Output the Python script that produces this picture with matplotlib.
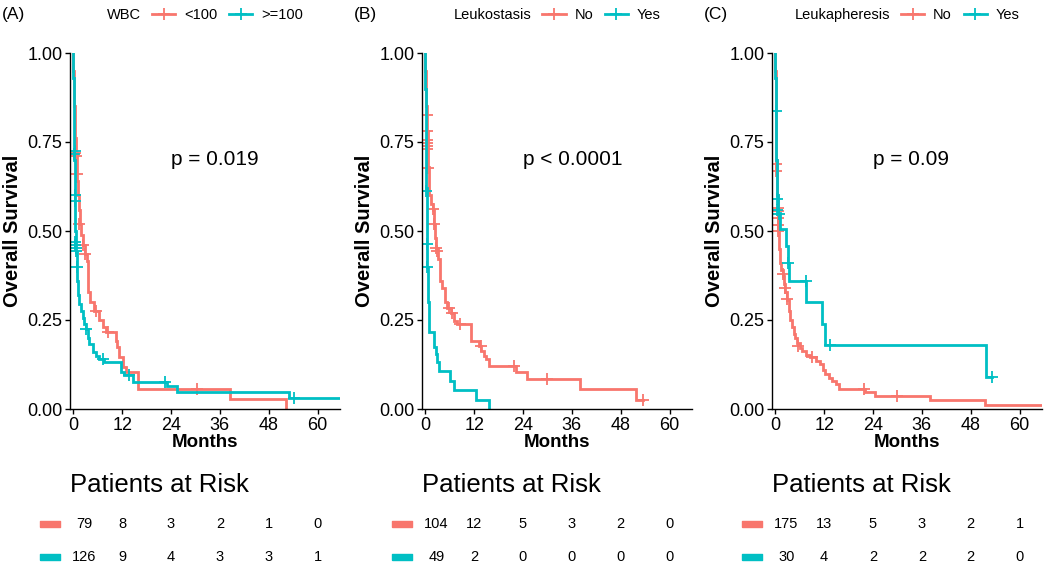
"""Kaplan-Meier overall survival by WBC, leukostasis and leukapheresis, with risk tables."""

import matplotlib
matplotlib.use("Agg")
import matplotlib.pyplot as plt
import matplotlib.transforms as mtransforms
from matplotlib.lines import Line2D
from matplotlib.offsetbox import HPacker

plt.rcParams["font.family"] = ["Liberation Sans", "DejaVu Sans"]
NARROW = ["Liberation Sans Narrow", "Liberation Sans", "DejaVu Sans"]
RED = "#F8766D"
CYAN = "#00BFC4"

RISK_TIMES = [0, 12, 24, 36, 48, 60]
X_TICKS = [0, 12, 24, 36, 48, 60]
Y_TICKS = [0.0, 0.25, 0.50, 0.75, 1.0]

# ---- (A) WBC ----
a_red_t = [0.05, 0.15, 0.25, 0.35, 0.45, 0.6, 0.8, 1.0, 1.2, 1.4, 1.6, 2.0, 2.4, 2.9, 3.4, 3.5, 3.6,
           4.2, 5.0, 6.4, 7.2, 8.0, 10.5, 10.8, 11.3, 12.2, 13.0, 15.9, 38.5, 52.3]
a_red_s = [0.95, 0.9, 0.85, 0.8, 0.76, 0.72, 0.68, 0.64, 0.6, 0.56, 0.52, 0.49, 0.46, 0.435, 0.416, 0.37,
           0.33, 0.30, 0.276, 0.25, 0.23, 0.215, 0.19, 0.173, 0.145, 0.117, 0.103, 0.056, 0.028, 0.0]
a_red_end = 52.3
a_red_ct = [0.5, 0.6, 0.9, 1.5, 2.3, 2.9, 5.6, 8.5, 30.5]
a_red_cs = [0.72, 0.71, 0.66, 0.52, 0.46, 0.435, 0.276, 0.215, 0.056]

a_cyan_t = [0.05, 0.1, 0.15, 0.2, 0.3, 0.35, 0.4, 0.45, 0.5, 0.6, 0.7, 0.8, 0.95, 1.1, 1.5, 1.9, 2.3,
            2.7, 3.1, 3.5, 3.9, 4.8, 5.6, 6.4, 7.6, 11.7, 12.4, 14.6, 22.9, 25.4, 53.0]
a_cyan_s = [0.93, 0.86, 0.8, 0.75, 0.7, 0.65, 0.6, 0.55, 0.5, 0.47, 0.44, 0.40, 0.36, 0.32, 0.295, 0.275,
            0.257, 0.24, 0.225, 0.2, 0.182, 0.16, 0.15, 0.14, 0.133, 0.103, 0.095, 0.077, 0.065, 0.047, 0.030]
a_cyan_end = 65.5
a_cyan_ct = [0.3, 0.35, 0.4, 0.45, 0.5, 0.55, 0.6, 0.65, 0.8, 3.1, 7.2, 13.8, 22.5, 54.3]
a_cyan_cs = [0.715, 0.726, 0.60, 0.585, 0.47, 0.46, 0.452, 0.444, 0.40, 0.225, 0.14, 0.095, 0.077, 0.030]

a_risk_red = [79, 8, 3, 2, 1, 0]
a_risk_cyan = [126, 9, 4, 3, 3, 1]

# ---- (B) Leukostasis ----
b_red_t = [0.05, 0.15, 0.3, 0.4, 0.5, 0.6, 0.7, 0.8, 0.9, 1.3, 1.8, 2.2, 2.5, 2.7, 3.2, 3.5, 3.7, 4.2,
           4.8, 5.4, 6.3, 7.0, 7.8, 11.2, 13.3, 13.8, 14.4, 14.8, 15.6, 22.3, 24.9, 38.1, 51.7]
b_red_s = [0.95, 0.9, 0.85, 0.82, 0.78, 0.72, 0.68, 0.64, 0.60, 0.575, 0.56, 0.52, 0.48, 0.453, 0.42,
           0.39, 0.36, 0.34, 0.30, 0.285, 0.27, 0.248, 0.238, 0.19, 0.178, 0.164, 0.15, 0.14, 0.121,
           0.103, 0.084, 0.056, 0.026]
b_red_end = 53.5
b_red_ct = [0.4, 0.45, 0.35, 0.35, 0.35, 0.35, 0.75, 1.8, 2.2, 2.7, 3.0, 5.8, 6.6, 8.5, 13.6, 21.8, 29.8, 53.5]
b_red_cs = [0.827, 0.78, 0.757, 0.748, 0.738, 0.729, 0.678, 0.561, 0.519, 0.453, 0.444, 0.285, 0.27,
            0.238, 0.178, 0.121, 0.084, 0.026]

b_cyan_t = [0.05, 0.1, 0.2, 0.3, 0.4, 0.5, 0.6, 0.7, 0.85, 1.0, 2.2, 2.6, 3.0, 3.4, 6.0, 7.0, 12.5, 15.6]
b_cyan_s = [0.9, 0.8, 0.7, 0.62, 0.48, 0.40, 0.35, 0.30, 0.26, 0.215, 0.175, 0.154, 0.133, 0.108,
            0.08, 0.052, 0.026, 0.0]
b_cyan_end = 15.6
b_cyan_ct = [0.25, 0.35, 0.45]
b_cyan_cs = [0.612, 0.463, 0.40]

b_risk_red = [104, 12, 5, 3, 2, 0]
b_risk_cyan = [49, 2, 0, 0, 0, 0]

# ---- (C) Leukapheresis ----
c_red_t = [0.05, 0.1, 0.15, 0.2, 0.25, 0.3, 0.4, 0.5, 0.6, 0.7, 0.9, 1.0, 1.2, 1.5, 1.8, 2.1, 2.4, 2.9,
           3.3, 3.7, 4.1, 4.5, 4.9, 5.3, 6.0, 6.6, 7.5, 8.5, 10.0, 11.0, 11.7, 12.3, 13.1, 13.9, 14.8,
           15.6, 22.0, 24.6, 38.0, 51.5]
c_red_s = [0.95, 0.9, 0.85, 0.8, 0.75, 0.7, 0.65, 0.6, 0.56, 0.52, 0.48, 0.45, 0.41, 0.39, 0.375, 0.35,
           0.33, 0.305, 0.276, 0.25, 0.229, 0.21, 0.2, 0.185, 0.172, 0.164, 0.152, 0.145, 0.135, 0.126,
           0.11, 0.098, 0.088, 0.079, 0.07, 0.056, 0.047, 0.037, 0.026, 0.011]
c_red_end = 65.5
c_red_ct = [0.2, 0.25, 0.6, 0.6, 0.65, 0.65, 0.7, 1.8, 2.3, 2.9, 5.7, 9.0, 21.8, 29.9]
c_red_cs = [0.687, 0.668, 0.565, 0.556, 0.537, 0.517, 0.5, 0.379, 0.341, 0.308, 0.178, 0.145, 0.056, 0.037]

c_cyan_t = [0.05, 0.1, 0.2, 0.3, 0.35, 0.6, 1.2, 2.6, 3.1, 3.3, 7.5, 11.5, 12.1, 51.7]
c_cyan_s = [0.93, 0.87, 0.83, 0.7, 0.6, 0.55, 0.505, 0.458, 0.41, 0.36, 0.30, 0.24, 0.18, 0.09]
c_cyan_end = 53.3
c_cyan_ct = [0.25, 0.4, 0.5, 0.8, 3.2, 7.5, 13.5, 53.3]
c_cyan_cs = [0.836, 0.589, 0.56, 0.547, 0.411, 0.36, 0.18, 0.09]

c_risk_red = [175, 13, 5, 3, 2, 1]
c_risk_cyan = [30, 4, 2, 2, 2, 0]

PANELS = [
    {"tag": "(A)", "var": "WBC", "levels": ["<100", ">=100"], "p": "p = 0.019",
     "curves": [(a_red_t, a_red_s, a_red_end, a_red_ct, a_red_cs),
                (a_cyan_t, a_cyan_s, a_cyan_end, a_cyan_ct, a_cyan_cs)],
     "risk": [a_risk_red, a_risk_cyan]},
    {"tag": "(B)", "var": "Leukostasis", "levels": ["No", "Yes"], "p": "p < 0.0001",
     "curves": [(b_red_t, b_red_s, b_red_end, b_red_ct, b_red_cs),
                (b_cyan_t, b_cyan_s, b_cyan_end, b_cyan_ct, b_cyan_cs)],
     "risk": [b_risk_red, b_risk_cyan]},
    {"tag": "(C)", "var": "Leukapheresis", "levels": ["No", "Yes"], "p": "p = 0.09",
     "curves": [(c_red_t, c_red_s, c_red_end, c_red_ct, c_red_cs),
                (c_cyan_t, c_cyan_s, c_cyan_end, c_cyan_ct, c_cyan_cs)],
     "risk": [c_risk_red, c_risk_cyan]},
]


def main() -> None:
    fig = plt.figure(figsize=(10.5, 5.66), dpi=100)
    lefts = [70 / 1050, 422 / 1050, 772 / 1050]
    colors = [RED, CYAN]
    px = 1 / 100  # one pixel in inches

    for left, panel in zip(lefts, PANELS):
        ax = fig.add_axes([left, 157 / 566, 270 / 1050, 356 / 566])
        for color, (t, s, end, ct, cs) in zip(colors, panel["curves"]):
            xs = [0] + list(t) + [end]
            ys = [1.0] + list(s) + [s[-1]]
            ax.step(xs, ys, where="post", color=color, lw=2.0, solid_joinstyle="miter")
            ax.plot(ct, cs, ls="none", marker="+", ms=8.5, mew=1.3, color=color)

        ax.set_xlim(-0.8, 65.5)
        ax.set_ylim(0, 1)
        ax.set_xticks(X_TICKS)
        ax.set_yticks(Y_TICKS, [f"{v:.2f}" for v in Y_TICKS])
        for spine in ["top", "right"]:
            ax.spines[spine].set_visible(False)
        for spine in ["left", "bottom"]:
            ax.spines[spine].set_linewidth(1.0)
        ax.tick_params(axis="both", length=3.5, width=1.0, pad=2)
        ax.tick_params(axis="y", labelsize=13)
        ax.tick_params(axis="x", labelsize=13)
        for lab in ax.get_xticklabels():
            lab.set_family(NARROW)
        ax.set_ylabel("Overall Survival", fontsize=14.5, fontweight="bold", labelpad=4)
        ax.set_xlabel("Months", fontsize=13.5, fontweight="bold", family=NARROW, labelpad=0)
        ax.text(24, 0.70, panel["p"], ha="left", va="center", fontsize=15)

        # legend with its title to the left, ggplot style
        handles = [Line2D([], [], color=c, lw=2.0, marker="+", ms=8, mew=1.3) for c in colors]
        leg = ax.legend(handles, panel["levels"], title=panel["var"], ncol=2, loc="center",
                        bbox_to_anchor=(0.5, 1.107), frameon=False, fontsize=10.5, title_fontsize=10.5,
                        handlelength=1.6, handletextpad=0.6, columnspacing=0.8, borderpad=0)
        box = leg._legend_box
        box.__class__ = HPacker
        box.sep = 8
        box.align = "center"

        fig.text(left - 68 / 1050, 1 - 15 / 566, panel["tag"], ha="left", va="center", fontsize=12.5)

        # risk table
        fig_y = mtransforms.blended_transform_factory(ax.transAxes, fig.transFigure)
        ax.text(0, 1 - 485 / 566, "Patients at Risk", transform=fig_y, ha="left", va="center",
                fontsize=18.5, family=NARROW, clip_on=False)
        data_y = mtransforms.blended_transform_factory(ax.transData, fig.transFigure)
        row_y = [1 - 524 / 566, 1 - 557 / 566]
        first_shift = mtransforms.ScaledTranslation(11 * px, 0, fig.dpi_scale_trans)
        strip_shift = mtransforms.ScaledTranslation(-23 * px, 0, fig.dpi_scale_trans)
        bar = [(-1.5, -0.5), (1.5, -0.5), (1.5, 0.5), (-1.5, 0.5), (-1.5, -0.5)]
        for color, counts, y in zip(colors, panel["risk"], row_y):
            ax.plot([RISK_TIMES[0]], [y], transform=data_y + strip_shift, marker=bar, ms=15,
                    color=color, ls="none", clip_on=False)
            for i, (tm, n) in enumerate(zip(RISK_TIMES, counts)):
                tr = data_y + first_shift if i == 0 else data_y
                ax.text(tm, y, str(n), transform=tr, ha="center", va="center", fontsize=10.5,
                        family=NARROW, clip_on=False)

    fig.savefig("out.png", dpi=100)
    plt.close(fig)


if __name__ == "__main__":
    main()
